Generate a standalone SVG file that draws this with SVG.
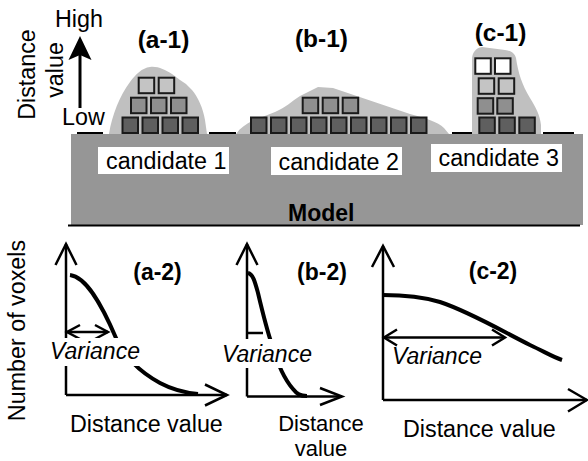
<svg xmlns="http://www.w3.org/2000/svg" width="588" height="461" viewBox="0 0 588 461">
<style>
text{font-family:"Liberation Sans",Arial,Helvetica,sans-serif;fill:#000}
.t{font-size:23.3px}
.it{font-size:23px;font-style:italic}
.b1{font-size:24.5px;font-weight:bold;text-anchor:middle}
.b2{font-size:23px;font-weight:bold;text-anchor:middle}
.blob{fill:#c0c0c0}
.v{stroke:#1a1a1a;stroke-width:2}
.d{fill:#5f5f5f}
.m{fill:#8f8f8f}
.l{fill:#c4c4c4}
.w{fill:#ffffff}
.ax{fill:none;stroke:#000;stroke-width:2.5;stroke-linejoin:miter}
.cv{fill:none;stroke:#000;stroke-width:4;stroke-linecap:butt}
.base{stroke:#000;stroke-width:2}
.wb{fill:#fff}
</style>

<g id="model">
  <rect x="71" y="134" width="512" height="91" fill="#969696"/>
  <line x1="68" y1="225.5" x2="580" y2="225.5" stroke="#000" stroke-width="2"/>
  <text x="288" y="221" style="font-size:23px;font-weight:bold">Model</text>
</g>

<g id="baseline">
  <line class="base" x1="77" y1="133" x2="103" y2="133"/>
  <line class="base" x1="209" y1="133" x2="236" y2="133"/>
  <line class="base" x1="452" y1="133" x2="478" y2="133"/>
  <line class="base" x1="543" y1="133" x2="574" y2="133"/>
</g>

<g id="distance-axis">
  <text class="t" text-anchor="middle" transform="translate(34.5,74.5) rotate(-90)">Distance</text>
  <text class="t" text-anchor="middle" transform="translate(63,70) rotate(-90)">value</text>
  <text class="t" x="55" y="27">High</text>
  <text class="t" x="62" y="125">Low</text>
  <line x1="80" y1="108" x2="80" y2="52" stroke="#000" stroke-width="3"/>
  <polygon points="80,36 91.5,60 80,55 68.5,60" fill="#000"/>
</g>

<g id="a1">
  <path class="blob" d="M109,134 C112,115 120,95 130,82 C136,74 142,68 150,67 C158,66 165,70 172,74 L180,80 L186,84 L192,90 C198,97 203,108 205,120 L207,134 Z"/>
  <rect class="v d" x="122.5" y="117.5" width="15.5" height="15.5"/>
  <rect class="v d" x="142.5" y="117.5" width="15.5" height="15.5"/>
  <rect class="v d" x="162.5" y="117.5" width="15.5" height="15.5"/>
  <rect class="v d" x="182.5" y="117.5" width="15.5" height="15.5"/>
  <rect class="v m" x="131" y="97.7" width="15.5" height="15.5"/>
  <rect class="v m" x="151" y="97.7" width="15.5" height="15.5"/>
  <rect class="v m" x="171" y="97.7" width="15.5" height="15.5"/>
  <rect class="v l" x="138.7" y="77.7" width="15.5" height="15.5"/>
  <rect class="v l" x="158.7" y="77.7" width="15.5" height="15.5"/>
  <text class="b1" x="163.5" y="48">(a-1)</text>
</g>

<g id="b1">
  <path class="blob" d="M236,134 C240,128 246,124 252,121 L275,112 C285,108 292,101 300,96 L318,87 L333,88 L410,114 C425,118 438,122 444,128 L449,134 Z"/>
  <rect class="v d" x="251" y="117.5" width="15.5" height="15.5"/>
  <rect class="v d" x="271" y="117.5" width="15.5" height="15.5"/>
  <rect class="v d" x="291" y="117.5" width="15.5" height="15.5"/>
  <rect class="v d" x="311" y="117.5" width="15.5" height="15.5"/>
  <rect class="v d" x="331" y="117.5" width="15.5" height="15.5"/>
  <rect class="v d" x="351" y="117.5" width="15.5" height="15.5"/>
  <rect class="v d" x="371" y="117.5" width="15.5" height="15.5"/>
  <rect class="v d" x="391" y="117.5" width="15.5" height="15.5"/>
  <rect class="v d" x="411" y="117.5" width="15.5" height="15.5"/>
  <rect class="v m" x="302.7" y="97.7" width="15.5" height="15.5"/>
  <rect class="v m" x="322.7" y="97.7" width="15.5" height="15.5"/>
  <rect class="v m" x="342.7" y="97.7" width="15.5" height="15.5"/>
  <text class="b1" x="321.5" y="47">(b-1)</text>
</g>

<g id="c1">
  <path class="blob" d="M472,134 L472,60 C472,52 476,48 482,47 L505,50 C512,51 515,54 516,58 C518,72 522,85 530,98 C536,108 540,115 541,125 L541,134 Z"/>
  <rect class="v d" x="479.3" y="117.5" width="15.5" height="15.5"/>
  <rect class="v d" x="499.3" y="117.5" width="15.5" height="15.5"/>
  <rect class="v d" x="519.3" y="117.5" width="15.5" height="15.5"/>
  <rect class="v m" x="477.7" y="98.2" width="15.5" height="15.5"/>
  <rect class="v m" x="497.3" y="98.2" width="15.5" height="15.5"/>
  <rect class="v l" x="478.7" y="78.3" width="15.5" height="15.5"/>
  <rect class="v l" x="498.7" y="78.3" width="15.5" height="15.5"/>
  <rect class="v w" x="475.3" y="58.3" width="15.5" height="15.5"/>
  <rect class="v w" x="495" y="58.3" width="15.5" height="15.5"/>
  <text class="b1" x="500.5" y="41">(c-1)</text>
</g>

<g id="candidate1">
  <rect class="wb" x="98" y="147" width="131" height="27"/>
  <text class="t" x="106" y="168.5">candidate 1</text>
</g>
<g id="candidate2">
  <rect class="wb" x="271" y="147" width="131" height="28"/>
  <text class="t" x="278.5" y="169.5">candidate 2</text>
</g>
<g id="candidate3">
  <rect class="wb" x="431" y="144" width="131" height="28"/>
  <text class="t" x="438.5" y="166">candidate 3</text>
</g>

<g id="ylabel">
  <text class="t" text-anchor="middle" transform="translate(25,330.5) rotate(-90)">Number of voxels</text>
</g>

<g id="a2">
  <polyline class="ax" points="66,395 66,244"/>
  <polyline class="ax" points="55.5,265 66,244 76.5,265"/>
  <polyline class="ax" points="66,395 227,395"/>
  <polyline class="ax" points="205,384.5 227,395 205,405.5"/>
  <path class="cv" d="M70,275 C86,277 101,303 116,338 C124,356 140,372 160,383 C175,391 187,393 198,394"/>
  <line class="ax" x1="67" y1="332" x2="108" y2="332"/>
  <polyline class="ax" points="80,325 67,332 80,339"/>
  <polyline class="ax" points="95,325 108,332 95,339"/>
  <rect class="wb" x="48" y="338" width="93" height="28"/>
  <text class="it" x="50" y="359">Variance</text>
  <text class="b2" x="157.5" y="280">(a-2)</text>
  <text class="t" x="70" y="431.5">Distance value</text>
</g>

<g id="b2">
  <polyline class="ax" points="247,396.5 247,244"/>
  <polyline class="ax" points="236.5,265 247,244 257.5,265"/>
  <polyline class="ax" points="247,396.5 342,396.5"/>
  <polyline class="ax" points="320,388 342,396.5 320,405"/>
  <path class="cv" d="M248,273 C253,274 255,282 258,293 C262,310 267,330 272,345 C277,362 285,380 293,389 C297,394 300,396 307,396"/>
  <line class="ax" x1="247" y1="333" x2="263" y2="333"/>
  <rect class="wb" x="219" y="339" width="99" height="29"/>
  <text class="it" x="222" y="361.5">Variance</text>
  <text class="b2" x="322" y="280">(b-2)</text>
  <text class="t" text-anchor="middle" x="321" y="431" style="font-size:22px">Distance</text>
  <text class="t" text-anchor="middle" x="321" y="455.5" style="font-size:22px">value</text>
</g>

<g id="c2">
  <polyline class="ax" points="383,400 383,246"/>
  <polyline class="ax" points="372,267 383,246 394,267"/>
  <polyline class="ax" points="383,400 587,400"/>
  <polyline class="ax" points="568,389 587,400 568,411.5"/>
  <path class="cv" d="M383,295 C400,295 420,296 440,302 C470,312 500,330 530,345 C545,352 553,357 562,360"/>
  <line class="ax" x1="384" y1="337.5" x2="505" y2="337.5"/>
  <polyline class="ax" points="397,329.5 384,337.5 397,345.5"/>
  <polyline class="ax" points="492,329.5 505,337.5 492,345.5"/>
  <text class="it" x="392" y="364">Variance</text>
  <text class="b2" x="493" y="279">(c-2)</text>
  <text class="t" x="403" y="436.5">Distance value</text>
</g>
</svg>
